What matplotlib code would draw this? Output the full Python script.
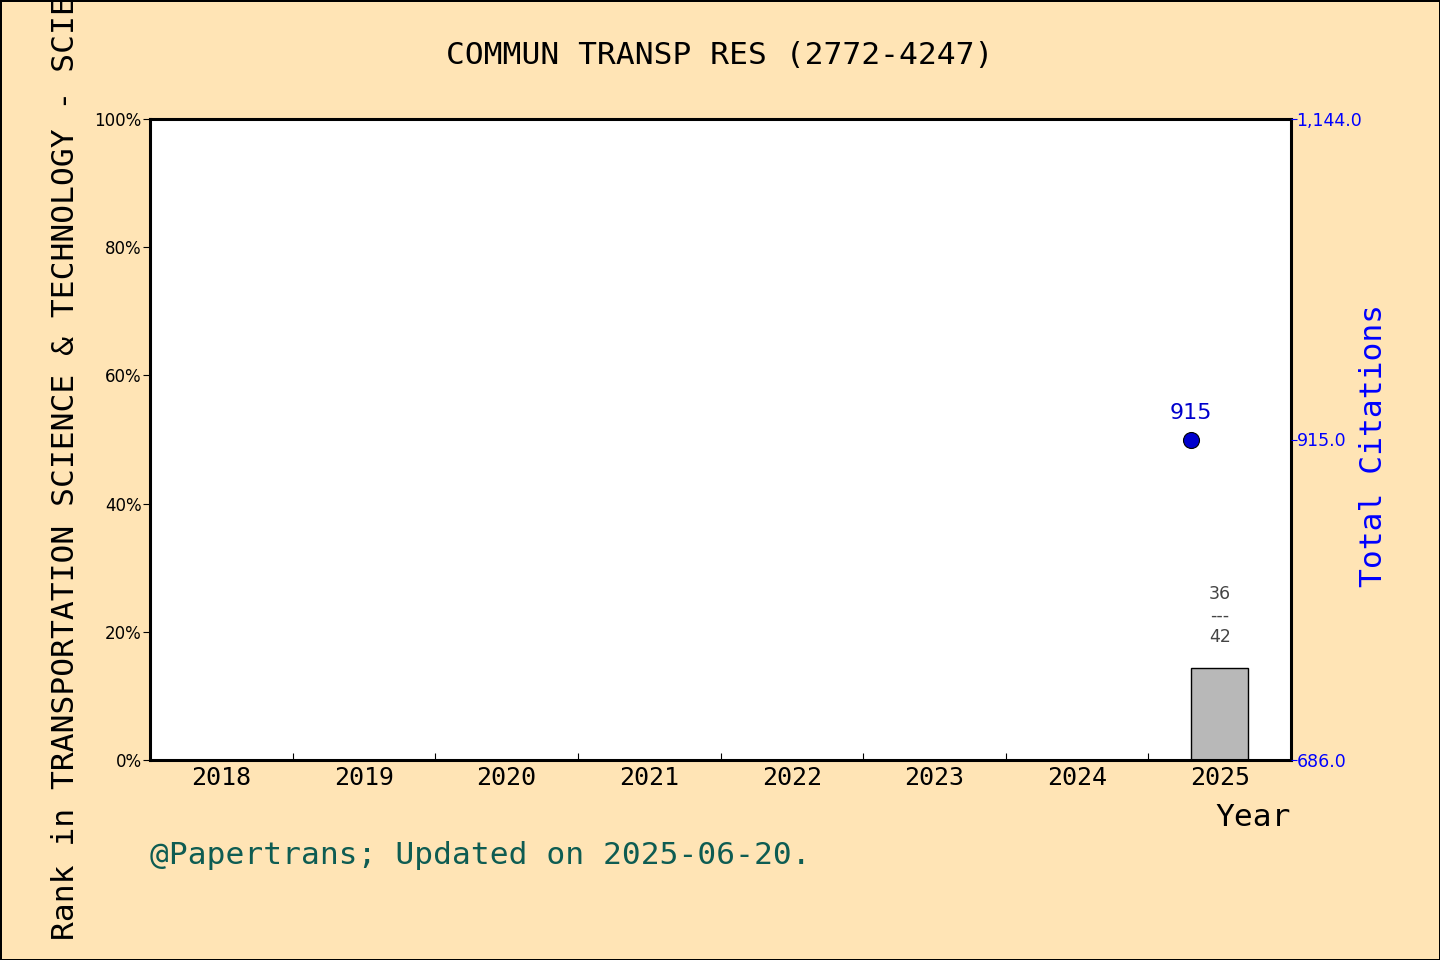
import numpy as np
import matplotlib
matplotlib.use('Agg')
import matplotlib.pyplot as plt
from matplotlib.ticker import FixedLocator, FuncFormatter

# data
years = [2018, 2019, 2020, 2021, 2022, 2023, 2024, 2025]
rank = [np.nan, np.nan, np.nan, np.nan, np.nan, np.nan, np.nan, 36]
total = [np.nan, np.nan, np.nan, np.nan, np.nan, np.nan, np.nan, 42]
citations = [np.nan, np.nan, np.nan, np.nan, np.nan, np.nan, np.nan, 915]
cite_ticks = [686.0, 915.0, 1144.0]

title = 'COMMUN TRANSP RES (2772-4247)'
left_label = 'Rank in TRANSPORTATION SCIENCE & TECHNOLOGY - SCIE'
right_label = 'Total Citations'
footer = '@Papertrans; Updated on 2025-06-20.'

mono = 'DejaVu Sans Mono'
bg = '#FFE4B5'

fig = plt.figure(figsize=(14.4, 9.6), dpi=100, facecolor=bg)
fig.patch.set_edgecolor('black')
fig.patch.set_linewidth(2)
ax = fig.add_axes([150 / 1440, 1 - 760 / 960, 1141 / 1440, 641 / 960])
ax.set_facecolor('white')

x = np.arange(len(years))
pct = [(t - r) / t * 100 if not np.isnan(r) else np.nan for r, t in zip(rank, total)]
ax.bar(x, pct, width=0.4, color='#b8b8b8', edgecolor='black', linewidth=1, zorder=2)
for xi, p, r, t in zip(x, pct, rank, total):
    if np.isnan(p):
        continue
    ax.text(xi, p + 3.5, f'{int(r)}\n---\n{int(t)}', ha='center', va='bottom',
            fontsize=12.5, color='#444444', linespacing=1.25, zorder=3)

ax.set_xlim(-0.5, len(years) - 0.5)
ax.set_ylim(0, 100)
ax.set_xticks(x)
ax.set_xticklabels([str(y) for y in years], family=mono, fontsize=18)
ax.xaxis.set_minor_locator(FixedLocator(x[:-1] + 0.5))
ax.tick_params(axis='x', which='major', length=0, pad=4)
ax.tick_params(axis='x', which='minor', direction='in', length=5, width=0.8)
ax.set_yticks(np.arange(0, 101, 20))
ax.yaxis.set_major_formatter(FuncFormatter(lambda v, p: f'{v:.0f}%'))
ax.tick_params(axis='y', which='major', direction='out', length=5, width=0.8,
               labelsize=12, pad=1)
for s in ax.spines.values():
    s.set_linewidth(2.2)

ax2 = ax.twinx()
ax2.set_ylim(cite_ticks[0], cite_ticks[-1])
ax2.plot(x - 0.2, citations, 'o', color='#0000cd', markeredgecolor='black',
         markeredgewidth=0.8, markersize=11.5, zorder=4)
for xi, c in zip(x, citations):
    if np.isnan(c):
        continue
    ax2.text(xi - 0.2, c + 12, f'{int(c)}', ha='center', va='bottom',
             fontsize=16, color='#0000cd')
ax2.set_yticks(cite_ticks)
ax2.yaxis.set_major_formatter(FuncFormatter(lambda v, p: f'{v:,.1f}'))
ax2.tick_params(axis='y', colors='blue', direction='out', length=4, width=0.8,
                labelsize=12.5, pad=0)
for s in ax2.spines.values():
    s.set_visible(False)

fig.text(0.5, 1 - 56 / 960, title, ha='center', va='center', family=mono,
         fontsize=22.5, color='black')
fig.text(66 / 1440, 1 - 468 / 960, left_label, ha='center', va='center',
         rotation=90, family=mono, fontsize=22.5, color='black')
fig.text(1374 / 1440, 1 - 445 / 960, right_label, ha='center', va='center',
         rotation=90, family=mono, fontsize=22.5, color='blue')
fig.text(1291 / 1440, 1 - 817 / 960, 'Year', ha='right', va='center',
         family=mono, fontsize=22.5, color='black')
fig.text(150 / 1440, 1 - 855 / 960, footer, ha='left', va='center',
         family=mono, fontsize=22.5, color='#0e5c52')

fig.savefig('out.png', dpi=100, facecolor=bg)
